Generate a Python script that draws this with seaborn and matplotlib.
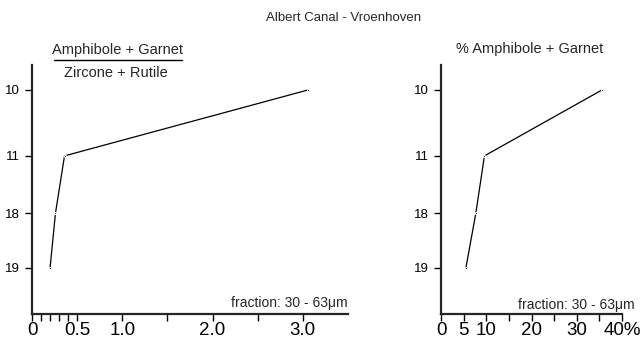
import matplotlib
matplotlib.use("Agg")
import matplotlib.pyplot as plt
import seaborn as sns

samples = ["10", "11", "18", "19"]
sample_pos = [1.0, 3.65, 5.95, 8.15]
ratio = [3.06, 0.36, 0.26, 0.20]
pct_amph_garnet = [35.6, 9.6, 7.7, 5.5]

sns.set_style("ticks")
plt.rcParams['font.family'] = ['Liberation Sans', 'DejaVu Sans']

fig = plt.figure(figsize=(6.41, 3.39), dpi=100)
ax1 = fig.add_axes([32/641, 25/339, 316/641, 249/339])
ax2 = fig.add_axes([441/641, 25/339, 181/641, 249/339])

sns.lineplot(x=ratio, y=sample_pos, sort=False, estimator=None, ax=ax1,
             color="black", lw=0.9, marker="o", ms=1.5)
sns.lineplot(x=pct_amph_garnet, y=sample_pos, sort=False, estimator=None, ax=ax2,
             color="black", lw=0.9, marker="o", ms=1.5)

for ax in (ax1, ax2):
    ax.set_ylim(10, 0)
    ax.set_yticks(sample_pos)
    ax.set_yticklabels(samples, fontsize=9.5)
    sns.despine(ax=ax)
    ax.spines["left"].set_linewidth(1.6)
    ax.spines["bottom"].set_linewidth(1.6)
    ax.tick_params(axis="both", which="both", direction="out", length=5, width=1, colors="black")
    ax.tick_params(axis="x", labelsize=13.5, pad=1)

ax1.set_xlim(0, 3.5)
ax1.set_xticks([0, 0.5, 1.0, 2.0, 3.0])
ax1.set_xticklabels(["0", "0.5", "1.0", "2.0", "3.0"])
ax1.set_xticks([0.1, 0.2, 0.3, 0.4, 1.5, 2.5], minor=True)

ax2.set_xlim(0, 40)
ax2.set_xticks([0, 5, 10, 20, 30, 40])
ax2.set_xticklabels(["0", "5", "10", "20", "30", "40%"])
ax2.set_xticks([15, 25, 35], minor=True)

for ax in (ax1, ax2):
    ax.text(1.0, 0.045, "fraction: 30 - 63\u03bcm", transform=ax.transAxes,
            ha="right", va="center", fontsize=10)
ax2.texts[0].set_position((1.07, 0.037))

fig.text(344/641, 1 - 18/339, "Albert Canal - Vroenhoven", ha="center", va="center", fontsize=9.5)
fig.text(118/641, 1 - 50/339, "Amphibole + Garnet", ha="center", va="center", fontsize=10.5)
fig.add_artist(plt.Line2D([54/641, 182/641], [1 - 60/339, 1 - 60/339], color="black", lw=1))
fig.text(116/641, 1 - 73/339, "Zircone + Rutile", ha="center", va="center", fontsize=10.5)
fig.text(530/641, 1 - 49/339, "% Amphibole + Garnet", ha="center", va="center", fontsize=10.5)

plt.savefig("out.png", dpi=100)
